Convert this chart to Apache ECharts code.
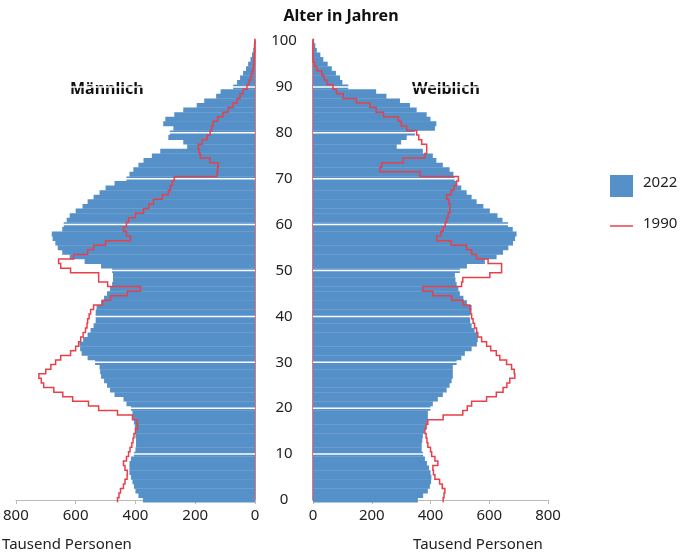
<!DOCTYPE html>
<html>
<head>
<meta charset="utf-8">
<script src="https://cdn.jsdelivr.net/npm/echarts@6/dist/echarts.min.js"></script>
<style>html,body{margin:0;padding:0;background:#fff}#chart{width:682px;height:560px}</style>
</head>
<body>
<div id="chart"></div>
<script>
// Tausend Personen je Altersjahr 0..100
const male2022 = [
    375, 390, 400, 405, 410, 415, 420, 420, 420, 415,
    405, 400, 398, 398, 400, 400, 402, 405, 408, 410,
    415, 430, 440, 470, 485, 495, 505, 515, 518, 520,
    535, 560, 580, 585, 587, 575, 560, 550, 540, 533,
    533, 533, 530, 515, 505, 495, 485, 478, 475, 475,
    478, 515, 570, 620, 645, 660, 668, 677, 680, 645,
    640, 630, 620, 600, 577, 560, 540, 520, 500, 470,
    430, 420, 407, 390, 373, 345, 317, 227, 240, 290,
    285, 273, 307, 300, 270, 240, 195, 170, 130, 115,
    73, 60, 50, 40, 30, 23, 15, 10, 6, 4, 2
];
const male1990 = [
    460, 455, 450, 440, 435, 428, 427, 435, 440, 430,
    423, 418, 412, 408, 405, 400, 393, 395, 410, 460,
    523, 557, 610, 643, 673, 707, 715, 723, 700, 683,
    667, 650, 617, 600, 590, 583, 575, 567, 562, 560,
    555, 550, 540, 510, 483, 427, 383, 493, 523, 523,
    617, 650, 657, 607, 560, 540, 500, 417, 430, 440,
    430, 423, 400, 373, 355, 340, 310, 290, 283, 277,
    270, 127, 125, 123, 150, 183, 187, 190, 177, 160,
    150, 145, 140, 125, 107, 90, 73, 60, 50, 40,
    27, 20, 14, 10, 6, 4, 3, 2, 1, 1, 0
];
const female2022 = [
    357, 375, 391, 398, 402, 403, 400, 395, 388, 381,
    375, 370, 370, 372, 374, 380, 385, 390, 391, 391,
    400, 408, 425, 442, 455, 465, 472, 476, 476, 476,
    489, 505, 517, 540, 558, 561, 560, 550, 540, 535,
    534, 536, 540, 524, 512, 500, 495, 489, 485, 483,
    500, 524, 585, 625, 647, 665, 681, 688, 693, 680,
    664, 645, 628, 602, 580, 557, 540, 523, 505, 489,
    482, 478, 465, 442, 420, 408, 374, 285, 300, 319,
    347, 415, 420, 400, 387, 353, 330, 296, 250, 215,
    120, 100, 92, 78, 64, 50, 35, 25, 13, 8, 4
];
const female1990 = [
    443, 446, 449, 440, 431, 415, 410, 408, 425, 415,
    404, 400, 391, 388, 385, 381, 385, 391, 443, 510,
    525, 540, 591, 624, 647, 660, 670, 687, 685, 676,
    659, 636, 624, 605, 591, 574, 561, 557, 550, 545,
    540, 537, 534, 511, 472, 408, 374, 506, 510, 602,
    642, 642, 596, 557, 540, 523, 470, 421, 435, 443,
    450, 455, 460, 466, 466, 462, 455, 470, 480, 489,
    495, 364, 228, 234, 307, 381, 387, 387, 370, 360,
    353, 319, 300, 290, 240, 215, 194, 148, 103, 80,
    68, 47, 38, 30, 13, 5, 0, 0, 0, 0, 0
];
const gridAges = [10, 20, 30, 40, 50, 60, 70, 80, 90];

const BLUE = "#5590c8";
const RED = "#e8404a";
const FONT = "Noto Sans";

function barSeries(values, idx) {
    return {
        name: "2022", type: "custom", xAxisIndex: idx, yAxisIndex: idx, clip: false, z: 2,
        data: values.map((v, age) => [v, age]),
        renderItem: (params, api) => {
            const v = api.value(0), age = api.value(1);
            const a = api.coord([0, age - 0.5]);
            const b = api.coord([v, age + 0.5]);
            return {
                type: "rect",
                shape: {x: Math.min(a[0], b[0]), y: Math.min(a[1], b[1]), width: Math.abs(b[0] - a[0]), height: Math.abs(b[1] - a[1]) + 0.3},
                style: {fill: BLUE}
            };
        }
    };
}

function whiteLines(idx) {
    return {
        type: "custom", xAxisIndex: idx, yAxisIndex: idx, z: 3, silent: true,
        data: gridAges.map(a => [a]),
        renderItem: (params, api) => {
            const p0 = api.coord([0, api.value(0)]);
            const p1 = api.coord([800, api.value(0)]);
            return {type: "line", shape: {x1: p0[0], y1: p0[1], x2: p1[0], y2: p1[1]}, style: {stroke: "#fff", lineWidth: 1.5}};
        }
    };
}

function stepSeries(values, idx) {
    return {
        name: "1990", type: "custom", xAxisIndex: idx, yAxisIndex: idx, clip: false, z: 4,
        data: [0],
        renderItem: (params, api) => {
            const pts = [];
            values.forEach((v, age) => {
                pts.push(api.coord([v, age - 0.5]));
                pts.push(api.coord([v, age + 0.5]));
            });
            return {type: "polyline", shape: {points: pts}, style: {stroke: RED, lineWidth: 1.5, fill: null}};
        }
    };
}

const xCommon = {
    type: "value", min: 0, max: 800, interval: 200,
    axisLine: {show: true, lineStyle: {color: "#bbb"}},
    axisTick: {show: true, length: 4, lineStyle: {color: "#bbb"}},
    axisLabel: {color: "#222", fontSize: 15, fontFamily: FONT, margin: 8},
    splitLine: {show: false}
};
const yCommon = {
    type: "value", min: 0, max: 100, interval: 10,
    axisLine: {show: true, lineStyle: {color: RED, width: 1.5}},
    axisTick: {show: false}, splitLine: {show: false}
};

const chart = echarts.init(document.getElementById("chart"));
chart.setOption({
    animation: false,
    textStyle: {fontFamily: FONT},
    grid: [
        {left: 15, right: 427, top: 41, bottom: 60},
        {left: 313, right: 134, top: 41, bottom: 60}
    ],
    xAxis: [
        Object.assign({}, xCommon, {gridIndex: 0, inverse: true}),
        Object.assign({}, xCommon, {gridIndex: 1})
    ],
    yAxis: [
        Object.assign({}, yCommon, {gridIndex: 0, position: "right", axisLabel: {show: false}}),
        Object.assign({}, yCommon, {gridIndex: 1, position: "left",
            axisLabel: {color: "#222", fontSize: 15, fontFamily: FONT, margin: 29, align: "center"}})
    ],
    series: [
        barSeries(male2022, 0), barSeries(female2022, 1),
        whiteLines(0), whiteLines(1),
        stepSeries(male1990, 0), stepSeries(female1990, 1)
    ],
    graphic: [
        {type: "text", left: "center", x: 0, top: 8, style: {text: "Alter in Jahren", font: "bold 16px 'Noto Sans'", fill: "#111"}},
        {type: "text", left: 70, top: 81, style: {text: "Männlich", font: "bold 16px 'Noto Sans'", fill: "#111"}},
        {type: "text", left: 412, top: 81, style: {text: "Weiblich", font: "bold 16px 'Noto Sans'", fill: "#111"}},
        {type: "text", left: 2, top: 537, style: {text: "Tausend Personen", font: "15px 'Noto Sans'", fill: "#222"}},
        {type: "text", left: 413, top: 537, style: {text: "Tausend Personen", font: "15px 'Noto Sans'", fill: "#222"}},
        {type: "rect", shape: {x: 610, y: 175, width: 23, height: 22}, style: {fill: BLUE}},
        {type: "text", left: 643, top: 175, style: {text: "2022", font: "15px 'Noto Sans'", fill: "#222"}},
        {type: "line", shape: {x1: 610, y1: 226, x2: 633, y2: 226}, style: {stroke: RED, lineWidth: 1.5}},
        {type: "text", left: 643, top: 216, style: {text: "1990", font: "15px 'Noto Sans'", fill: "#222"}}
    ]
});
</script>
</body>
</html>
